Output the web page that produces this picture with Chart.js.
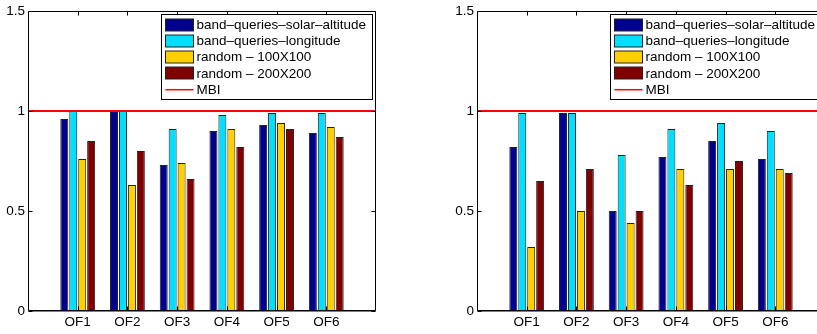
<!DOCTYPE html>
<html>
<head>
<meta charset="utf-8">
<script src="https://cdn.jsdelivr.net/npm/chart.js@4.4.1/dist/chart.umd.min.js"></script>
<style>
    html, body { margin: 0; padding: 0; background: #fff; }
    body { width: 817px; height: 334px; overflow: hidden; position: relative; }
    .panel { position: absolute; top: 0; height: 334px; }
</style>
</head>
<body>
<div class="panel" style="left:0px; width:410px"><canvas id="leftChart" width="410" height="334"></canvas></div>
<div class="panel" style="left:410px; width:420px"><canvas id="rightChart" width="420" height="334"></canvas></div>
<script>
const categories = ['OF1', 'OF2', 'OF3', 'OF4', 'OF5', 'OF6'];
const seriesNames = ['band–queries–solar–altitude', 'band–queries–longitude', 'random – 100X100', 'random – 200X200'];
const lineName = 'MBI';
const yTicks = [0, 0.5, 1, 1.5];
const mbiValue = 1;

// left panel
const leftSolar = [0.96, 1.00, 0.73, 0.90, 0.93, 0.89];
const leftLongitude = [1.00, 1.00, 0.91, 0.98, 0.99, 0.99];
const leftRandom100 = [0.76, 0.63, 0.74, 0.91, 0.94, 0.92];
const leftRandom200 = [0.85, 0.80, 0.66, 0.82, 0.91, 0.87];

// right panel
const rightSolar = [0.82, 0.99, 0.50, 0.77, 0.85, 0.76];
const rightLongitude = [0.99, 0.99, 0.78, 0.91, 0.94, 0.90];
const rightRandom100 = [0.32, 0.50, 0.44, 0.71, 0.71, 0.71];
const rightRandom200 = [0.65, 0.71, 0.50, 0.63, 0.75, 0.69];

const colors = ['#00008F', '#00DFFF', '#FFCF00', '#800000'];
const lineColor = '#FF0000';
const FONT = 'Liberation Sans, Arial, Helvetica, sans-serif';
const FONT_SIZE = 13.5;

// matlab style box, inward ticks and legend
const matlabAxes = {
    id: 'matlabAxes',
    afterDraw(chart) {
        const ctx = chart.ctx;
        const a = chart.chartArea;
        const xs = chart.scales.x;
        const ys = chart.scales.y;
        const L = Math.round(a.left) + 0.5, R = Math.round(a.right) - 0.5;
        const T = Math.round(a.top) + 0.5, B = Math.round(a.bottom) - 0.5;
        const tl = 4;
        ctx.save();
        ctx.strokeStyle = '#000';
        ctx.lineWidth = 1;
        ctx.beginPath();
        ctx.rect(L, T, R - L, B - T);
        yTicks.forEach(v => {
            const y = Math.round(ys.getPixelForValue(v)) + 0.5;
            ctx.moveTo(L, y); ctx.lineTo(L + tl, y);
            ctx.moveTo(R, y); ctx.lineTo(R - tl, y);
        });
        categories.forEach((c, i) => {
            const x = Math.round(xs.getPixelForValue(i + 1)) + 0.5;
            ctx.moveTo(x, T); ctx.lineTo(x, T + tl);
            ctx.moveTo(x, B); ctx.lineTo(x, B - tl);
        });
        ctx.stroke();
        // slightly heavier x axis line
        ctx.beginPath();
        ctx.moveTo(L, B + 0.5); ctx.lineTo(R, B + 0.5);
        ctx.stroke();

        // legend
        const lx = Math.round(a.left) + 133.5, ly = Math.round(a.top) + 3.5;
        const lw = 211, lh = 85, rowH = 16.3;
        ctx.fillStyle = '#fff';
        ctx.fillRect(lx, ly, lw, lh);
        ctx.strokeRect(lx, ly, lw, lh);
        ctx.font = FONT_SIZE + 'px ' + FONT;
        ctx.textBaseline = 'middle';
        ctx.textAlign = 'left';
        seriesNames.forEach((name, i) => {
            const cy = ly + 10 + i * rowH;
            ctx.fillStyle = colors[i];
            ctx.fillRect(lx + 4, Math.round(cy - 6), 28, 12);
            ctx.strokeStyle = '#222';
            ctx.strokeRect(lx + 4, Math.round(cy - 6), 28, 12);
            ctx.fillStyle = '#000';
            ctx.fillText(name, lx + 35, cy + 0.5);
        });
        const cy = ly + 10 + 4 * rowH;
        ctx.strokeStyle = lineColor;
        ctx.lineWidth = 1.5;
        ctx.beginPath();
        ctx.moveTo(lx + 4, cy); ctx.lineTo(lx + 32, cy);
        ctx.stroke();
        ctx.fillStyle = '#000';
        ctx.fillText(lineName, lx + 35, cy + 0.5);
        ctx.restore();
    }
};

function makeChart(id, values, yWidth, padRight) {
    const labels = ['', ...categories, ''];
    const datasets = values.map((vals, i) => ({
        type: 'bar',
        label: seriesNames[i],
        data: [null, ...vals, null],
        backgroundColor: colors[i],
        borderColor: '#222',
        borderWidth: 1,
        categoryPercentage: 0.72,
        barPercentage: 0.89,
        order: 2
    }));
    datasets.push({
        type: 'line',
        label: lineName,
        data: labels.map(() => mbiValue),
        borderColor: lineColor,
        borderWidth: 2,
        pointRadius: 0,
        fill: false,
        order: 0
    });
    return new Chart(document.getElementById(id), {
        type: 'bar',
        data: { labels: labels, datasets: datasets },
        options: {
            responsive: false,
            animation: false,
            events: [],
            layout: { padding: { top: 9, right: padRight, left: 0, bottom: 0 } },
            plugins: { legend: { display: false }, tooltip: { enabled: false } },
            scales: {
                x: {
                    type: 'category',
                    offset: false,
                    grid: { display: false, drawTicks: false },
                    border: { display: false },
                    ticks: { color: '#000', font: { family: FONT, size: FONT_SIZE }, padding: 3, autoSkip: false, maxRotation: 0 },
                    afterFit: s => { s.height = 23; }
                },
                y: {
                    min: 0,
                    max: 1.5,
                    grid: { display: false, drawTicks: false },
                    border: { display: false },
                    afterBuildTicks: s => { s.ticks = yTicks.map(v => ({ value: v })); },
                    ticks: { color: '#000', font: { family: FONT, size: FONT_SIZE }, padding: 3, callback: v => String(v) },
                    afterFit: s => { s.width = yWidth; }
                }
            }
        },
        plugins: [matlabAxes]
    });
}

makeChart('leftChart', [leftSolar, leftLongitude, leftRandom100, leftRandom200], 28, 34);
makeChart('rightChart', [rightSolar, rightLongitude, rightRandom100, rightRandom200], 67, 5);
</script>
</body>
</html>
